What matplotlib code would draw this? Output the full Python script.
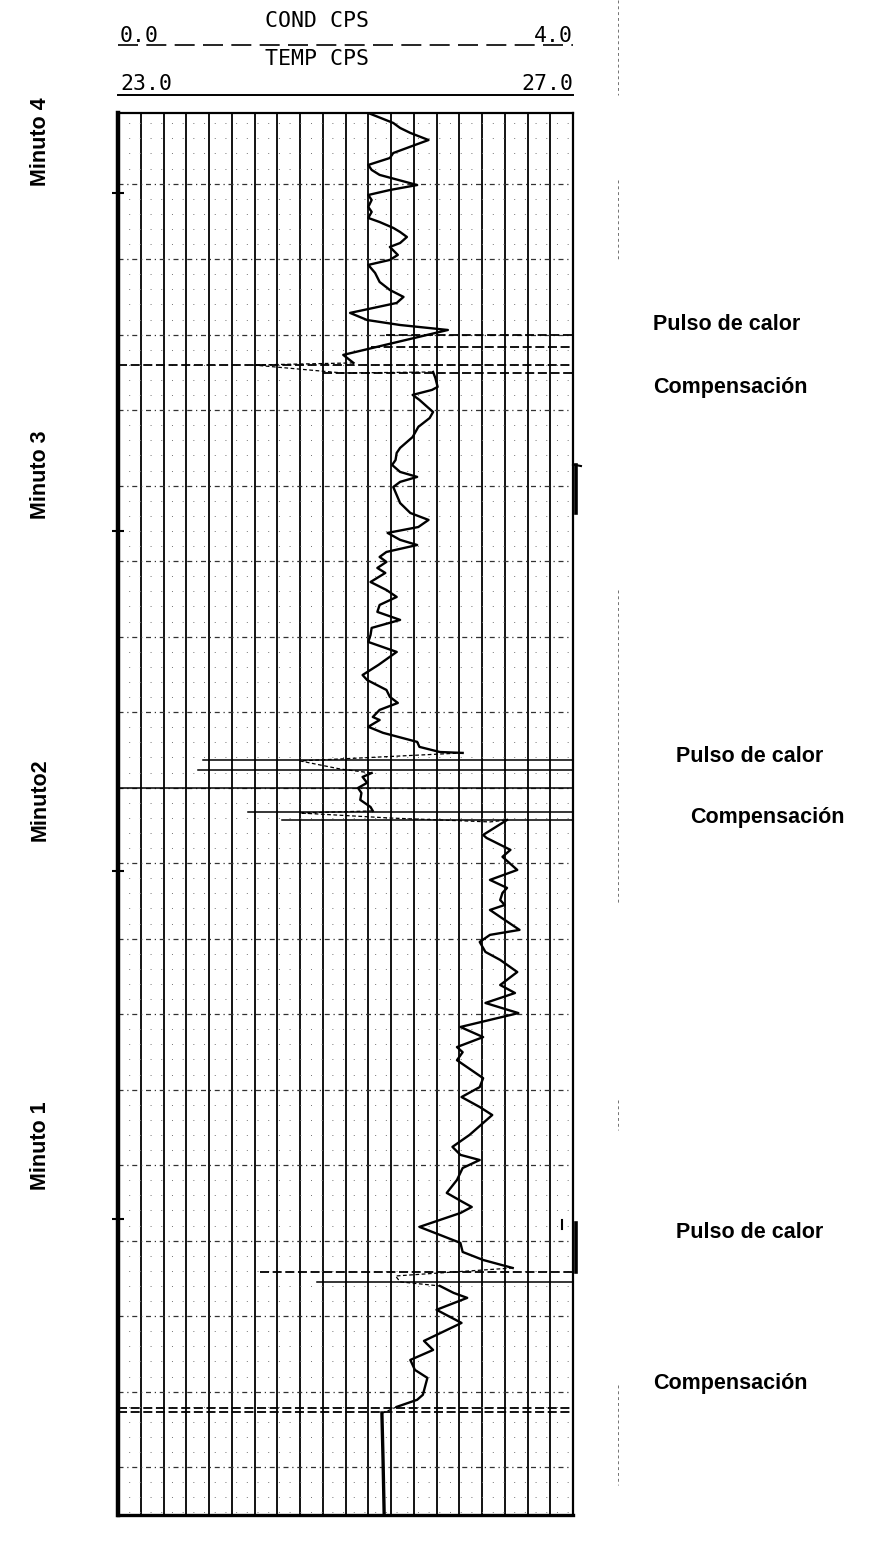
from matplotlib import pyplot as plt
from matplotlib.lines import Line2D
import numpy as np

plt.rcParams['font.family'] = ['Liberation Sans', 'DejaVu Sans']

W, H = 871, 1544

# scales printed in the header of the log
cond_min, cond_max = 0.0, 4.0
temp_min, temp_max = 23.0, 27.0

# chart depth in grid divisions (increasing downwards)
depth_top, depth_bottom = -0.68, 92.17

# ---------------------------------------------------------------- trace
# minuto 4, up to the first heat pulse
temp_a = [25.20, 25.42, 25.48, 25.57, 25.73, 25.61, 25.42, 25.39, 25.20, 25.23,
          25.30, 25.63, 25.39, 25.20, 25.23, 25.20, 25.23, 25.20, 25.30, 25.42,
          25.48, 25.54, 25.48, 25.39, 25.46, 25.39, 25.20, 25.26, 25.30, 25.39,
          25.51, 25.45, 25.04, 25.19, 25.48, 25.90, 24.98, 25.07]
depth_a = [-0.68, -0.02, 0.31, 0.64, 1.11, 1.44, 1.97, 2.30, 2.76, 3.09,
           3.42, 4.09, 4.42, 4.75, 5.08, 5.54, 5.87, 6.27, 6.54, 6.93,
           7.20, 7.53, 7.93, 8.19, 8.72, 9.05, 9.38, 9.91, 10.51, 11.04,
           11.50, 11.90, 12.56, 13.03, 13.36, 13.69, 15.34, 15.87]

# minuto 3, compensation to second heat pulse
temp_b = [25.77, 25.79, 25.81, 25.76, 25.59, 25.65, 25.72, 25.77, 25.74, 25.64,
          25.59, 25.48, 25.45, 25.44, 25.41, 25.48, 25.63, 25.48, 25.42, 25.45,
          25.48, 25.57, 25.73, 25.64, 25.37, 25.48, 25.63, 25.36, 25.30, 25.36,
          25.28, 25.35, 25.22, 25.36, 25.45, 25.30, 25.28, 25.48, 25.23, 25.22,
          25.20, 25.45, 25.29, 25.15, 25.19, 25.36, 25.39, 25.46, 25.30, 25.24,
          25.30, 25.20, 25.33, 25.63, 25.65, 25.83, 26.03]
depth_b = [16.47, 16.87, 17.46, 17.66, 17.99, 18.32, 18.79, 19.12, 19.52, 20.11,
           20.78, 21.50, 21.83, 22.30, 22.63, 23.09, 23.42, 23.75, 24.09, 24.62,
           25.15, 25.81, 26.27, 26.74, 27.13, 27.59, 27.93, 28.39, 28.72, 29.05,
           29.45, 29.78, 30.38, 30.91, 31.37, 31.90, 32.36, 32.89, 33.42, 33.89,
           34.35, 35.01, 35.87, 36.54, 36.87, 37.53, 37.99, 38.39, 38.85, 39.32,
           39.52, 39.97, 40.37, 40.97, 41.30, 41.64, 41.70]

# between second pulse and its compensation
temp_c = [25.23, 25.15, 25.19, 25.11, 25.14, 25.13, 25.22, 25.24]
depth_c = [43.03, 43.29, 43.68, 44.02, 44.35, 44.81, 45.28, 45.54]

# minuto 2 / minuto 1, up to third heat pulse
temp_d = [26.42, 26.21, 26.24, 26.45, 26.38, 26.51, 26.27, 26.42, 26.38, 26.36,
          26.40, 26.27, 26.36, 26.53, 26.27, 26.18, 26.23, 26.36, 26.51, 26.36,
          26.49, 26.23, 26.52, 26.01, 26.21, 25.98, 26.03, 25.98, 26.21, 26.18,
          26.02, 26.18, 26.29, 26.09, 25.94, 26.01, 26.18, 26.03, 25.98, 25.89,
          26.03, 26.11, 26.01, 25.65, 25.83, 26.01, 26.03, 26.21, 26.47]
depth_d = [46.14, 47.13, 47.33, 48.12, 48.58, 49.45, 50.11, 50.64, 50.97, 51.44,
           51.77, 52.10, 52.56, 53.42, 53.75, 54.22, 54.88, 55.41, 56.21, 57.07,
           57.60, 58.26, 58.93, 59.85, 60.52, 61.18, 61.52, 62.05, 63.24, 63.83,
           64.49, 65.15, 65.68, 67.00, 67.79, 68.32, 68.66, 69.19, 69.98, 70.84,
           71.44, 71.77, 72.17, 73.09, 73.62, 74.15, 74.75, 75.28, 75.81]

# after third pulse
temp_e = [25.83, 25.95, 26.07, 25.80, 26.02, 25.69, 25.77, 25.57, 25.61, 25.72,
          25.68, 25.63, 25.45]
depth_e = [77.00, 77.46, 77.79, 78.58, 79.45, 80.64, 81.24, 81.90, 82.56, 83.09,
           84.21, 84.54, 85.01]

# baseline after last compensation
temp_f = [25.32, 25.33, 25.34]
depth_f = [85.41, 88.50, 92.17]

# fast pen sweeps joining the blocks
sweeps = [
    ([25.07, 24.19, 24.98, 25.77], [15.87, 16.01, 16.54, 16.47]),
    ([26.03, 24.60, 24.95, 25.23], [41.70, 42.23, 42.76, 43.03]),
    ([25.24, 24.60, 25.39, 26.27, 26.42], [45.54, 45.68, 46.01, 46.27, 46.14]),
    ([26.47, 25.44, 25.48, 25.83], [75.81, 76.34, 76.73, 77.00]),
    ([25.45, 25.33], [85.01, 85.41]),
]

# event marks drawn across the strip (pulse / compensation)
event_depth = [14.02, 14.81, 16.01, 16.54, 42.17, 42.83, 44.0, 45.61, 46.14,
               76.07, 76.73, 85.08, 85.34]
event_from = [25.36, 25.22, 23.0, 24.80, 23.75, 23.70, 23.0, 24.14, 24.44,
              24.25, 24.75, 23.0, 23.0]
event_style = ['dash', 'dash', 'dash', 'dash', 'solid', 'solid', 'solid', 'solid',
               'solid', 'dash', 'solid', 'dash', 'dash']

minute_ticks = [4.63, 26.98, 49.50, 72.57]
minute_labels = ["Minuto 4", "Minuto 3", "Minuto2", "Minuto 1"]
minute_label_y = [142, 475, 800, 1146]

notes = ["Pulso de calor", "Compensación", "Pulso de calor", "Compensación",
         "Pulso de calor", "Compensación"]
notes_x = [653, 653, 676, 690, 676, 653]
notes_y = [325, 387, 757, 818, 1233, 1383]

# ---------------------------------------------------------------- figure
fig = plt.figure(figsize=(W / 100, H / 100), dpi=100)
ax = fig.add_axes([118 / W, 1 - 1515 / H, 455 / W, 1402 / H])
ax.set_xlim(temp_min, temp_max)
ax.set_ylim(depth_bottom, depth_top)

# chart paper grid
for t in np.linspace(temp_min, temp_max, 21)[1:-1]:
    ax.axvline(t, color='black', lw=1.3, zorder=1)
for d in range(0, 93):
    if d % 5 == 4:
        ax.axhline(d, color='0.2', lw=0.9, ls=(0, (4, 3, 1, 3)), zorder=1)
    else:
        ax.axhline(d, color='0.45', lw=0.7, ls=(0, (1, 10)), zorder=1)

# pulse / compensation marks
for d, t0, st in zip(event_depth, event_from, event_style):
    if st == 'solid':
        ax.plot([t0, temp_max], [d, d], color='black', lw=1.1, zorder=2)
    else:
        ax.plot([t0, temp_max], [d, d], color='black', lw=1.3, ls=(0, (5, 2)), zorder=2)

# trace
for tt, dd in [(temp_a, depth_a), (temp_b, depth_b), (temp_c, depth_c),
               (temp_d, depth_d), (temp_e, depth_e)]:
    ax.plot(tt, dd, color='black', lw=1.7, solid_joinstyle='round', zorder=3)
ax.plot(temp_f, depth_f, color='black', lw=2.4, zorder=3)
for tt, dd in sweeps:
    ax.plot(tt, dd, color='black', lw=0.9, ls=(0, (3, 2)), zorder=3)

# marker pen on the right edge
ax.plot([27.03, 27.03], [22.6, 25.8], color='black', lw=2.6, clip_on=False)
ax.plot([27.0, 27.07], [22.6, 22.7], color='black', lw=1.5, clip_on=False)
ax.plot([27.03, 27.03], [72.8, 76.1], color='black', lw=2.6, clip_on=False)
ax.plot([26.9, 26.9], [72.6, 73.2], color='black', lw=1.5)

ax.set_xticks([])
ax.set_yticks(minute_ticks)
ax.set_yticklabels([])
ax.tick_params(axis='y', direction='inout', length=8, width=1.5)
for side, lw in [('left', 3.2), ('right', 1.6), ('top', 1.6), ('bottom', 2.4)]:
    ax.spines[side].set_linewidth(lw)

# header
def fp(px, py):
    return px / W, 1 - py / H

mono = 'DejaVu Sans Mono'
hs = 15.5
fig.text(*fp(317, 27), "COND CPS", family=mono, fontsize=hs, ha='center', va='baseline')
fig.text(*fp(120, 42), f"{cond_min:.1f}", family=mono, fontsize=hs, ha='left', va='baseline')
fig.text(*fp(573, 42), f"{cond_max:.1f}", family=mono, fontsize=hs, ha='right', va='baseline')
fig.text(*fp(317, 65), "TEMP CPS", family=mono, fontsize=hs, ha='center', va='baseline')
fig.text(*fp(120, 90), f"{temp_min:.1f}", family=mono, fontsize=hs, ha='left', va='baseline')
fig.text(*fp(573, 90), f"{temp_max:.1f}", family=mono, fontsize=hs, ha='right', va='baseline')
fig.add_artist(Line2D([118 / W, 573 / W], [1 - 45 / H] * 2, color='black', lw=1.2,
                      ls=(0, (12, 5))))
fig.add_artist(Line2D([118 / W, 573 / W], [1 - 95 / H] * 2, color='black', lw=1.4))

# faint page marks on the right
for y0, y1 in [(0, 95), (180, 260), (590, 905), (1100, 1130), (1385, 1485)]:
    fig.add_artist(Line2D([618 / W] * 2, [1 - y0 / H, 1 - y1 / H], color='0.45',
                          lw=0.7, ls=(0, (3, 3))))

for lab, y in zip(minute_labels, minute_label_y):
    fig.text(*fp(40, y), lab, rotation=90, ha='center', va='center',
             fontsize=15.5, fontweight='bold')
for txt, x, y in zip(notes, notes_x, notes_y):
    fig.text(*fp(x, y), txt, ha='left', va='center', fontsize=15.5, fontweight='bold')

fig.savefig('out.png', dpi=100)
